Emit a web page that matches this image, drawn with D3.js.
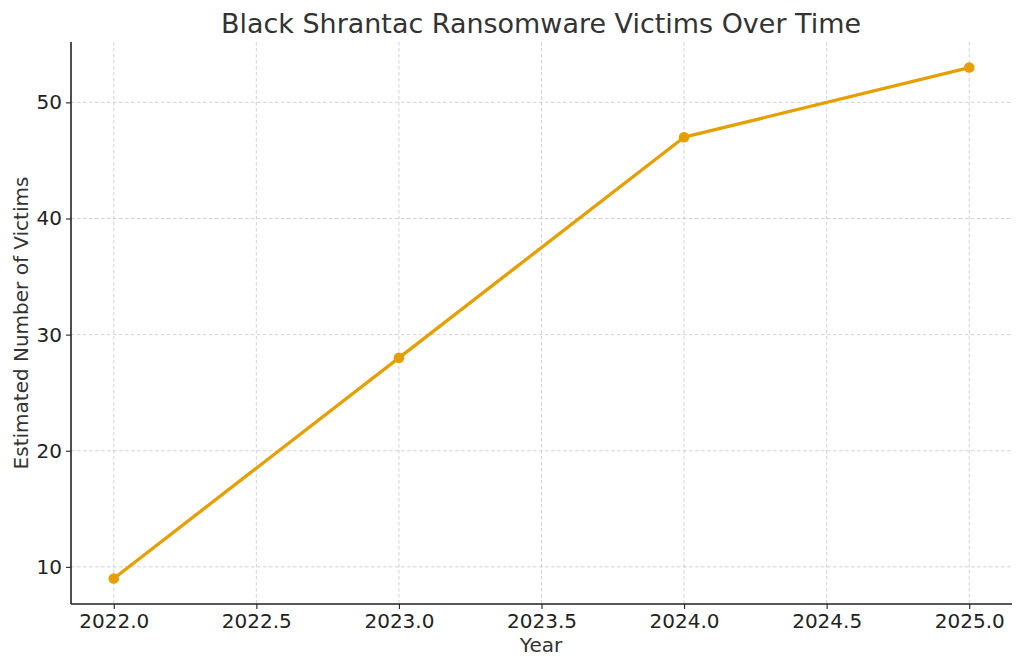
<!DOCTYPE html>
<html><head><meta charset="utf-8">
<script src="https://cdn.jsdelivr.net/npm/d3@7"></script>
<style>body{margin:0;background:#fff}svg{display:block}text{font-family:"DejaVu Sans",sans-serif}</style>
</head><body><svg id="c" width="1024" height="669"></svg>
<script>
const years = [2022, 2023, 2024, 2025];
const victims = [9, 28, 47, 53];
const xTicks = [2022.0, 2022.5, 2023.0, 2023.5, 2024.0, 2024.5, 2025.0];
const yTicks = [10, 20, 30, 40, 50];
const title = "Black Shrantac Ransomware Victims Over Time";
const xLabel = "Year";
const yLabel = "Estimated Number of Victims";

const svg = d3.select("#c");
const L = 71, R = 1012, T = 42, B = 604;
const x = d3.scaleLinear().domain([2021.85, 2025.15]).range([L, R]);
const y = d3.scaleLinear().domain([6.8, 55.2]).range([B, T]);

// grid
svg.append("g").selectAll("line").data(xTicks).join("line")
  .attr("x1", d => x(d)).attr("x2", d => x(d)).attr("y1", T).attr("y2", B)
  .attr("stroke", "#b0b0b0").attr("stroke-opacity", 0.7).attr("stroke-width", 0.8).attr("stroke-dasharray", "3.5,2.5");
svg.append("g").selectAll("line").data(yTicks).join("line")
  .attr("y1", d => y(d)).attr("y2", d => y(d)).attr("x1", L).attr("x2", R)
  .attr("stroke", "#b0b0b0").attr("stroke-opacity", 0.7).attr("stroke-width", 0.8).attr("stroke-dasharray", "3.5,2.5");

// axes
const xa = svg.append("g").attr("transform", `translate(0,${B})`)
  .call(d3.axisBottom(x).tickValues(xTicks).tickFormat(d3.format(".1f")).tickSize(5).tickPadding(5).tickSizeOuter(0));
const ya = svg.append("g").attr("transform", `translate(${L},0)`)
  .call(d3.axisLeft(y).tickValues(yTicks).tickSize(5).tickPadding(4).tickSizeOuter(0));
[xa, ya].forEach(a => {
  a.select(".domain").attr("stroke", "#222").attr("stroke-width", 1.6);
  a.selectAll(".tick line").attr("stroke", "#222").attr("stroke-width", 1.1);
  a.selectAll(".tick text").attr("fill", "#222").style("font-size", "20px").style("font-family", "DejaVu Sans");
});
xa.select(".domain").attr("d", `M${L},0H${R}`);
ya.select(".domain").attr("d", `M0,${B}V${T}`);

// line
const data = years.map((d, i) => ({ x: d, y: victims[i] }));
svg.append("path").datum(data)
  .attr("fill", "none").attr("stroke", "#E69F00").attr("stroke-width", 3.3)
  .attr("stroke-linejoin", "round").attr("stroke-linecap", "round")
  .attr("d", d3.line().x(d => x(d.x)).y(d => y(d.y)));
svg.append("g").selectAll("circle").data(data).join("circle")
  .attr("cx", d => x(d.x)).attr("cy", d => y(d.y)).attr("r", 5.3).attr("fill", "#E69F00");

// labels
svg.append("text").attr("x", 541).attr("y", 33).attr("text-anchor", "middle")
  .attr("fill", "#333").style("font-size", "27px").attr("textLength", 640).attr("lengthAdjust", "spacingAndGlyphs").text(title);
svg.append("text").attr("x", 541).attr("y", 652).attr("text-anchor", "middle")
  .attr("fill", "#333").style("font-size", "20px").text(xLabel);
svg.append("text").attr("transform", "translate(28,323) rotate(-90)").attr("text-anchor", "middle")
  .attr("fill", "#333").style("font-size", "20px").text(yLabel);
</script></body></html>
